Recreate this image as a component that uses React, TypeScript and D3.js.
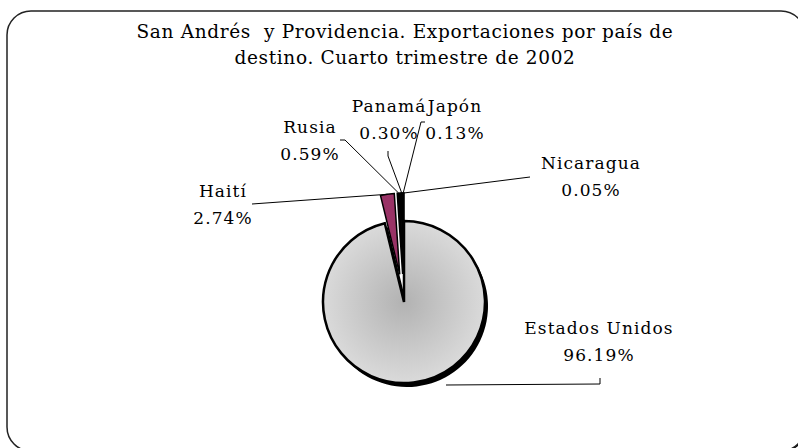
import React from "react";
import * as d3 from "d3";

const categories = ["Estados Unidos", "Haití", "Rusia", "Panamá", "Japón", "Nicaragua"];
const values = [96.19, 2.74, 0.59, 0.3, 0.13, 0.05];
const valueLabels = ["96.19%", "2.74%", "0.59%", "0.30%", "0.13%", "0.05%"];
const titleLines = [
  "San Andrés  y Providencia. Exportaciones por país de",
  "destino. Cuarto trimestre de 2002",
];

// layout (label anchor positions & leader elbow)
const labelPos: [number, number][] = [
  [599, 334],
  [223, 197],
  [310, 133],
  [389, 112],
  [455, 112],
  [591, 169],
];
const elbows: [number, number][][] = [
  [[600, 378], [600, 384]],
  [[252, 204]],
  [[340, 140], [345, 140]],
  [[388, 151], [388, 156]],
  [[425, 122], [421, 122]],
  [[530, 177]],
];
const fills = ["url(#pieGrad)", "#993366", "#000000", "#000000", "#000000", "#000000"];

export default function App() {
  const W = 798, H = 448;
  const cx = 404, cy = 302, r = 81;
  const explode = 28;
  const pie = d3.pie<number>().sort(null).startAngle(0).endAngle(2 * Math.PI);
  const arcs = pie(values);
  const arc = d3.arc<d3.PieArcDatum<number>>().innerRadius(0).outerRadius(r);

  const offsetOf = (i: number) => {
    if (i === 0) return [0, 0];
    const a = (arcs[i].startAngle + arcs[i].endAngle) / 2;
    return [explode * Math.sin(a), -explode * Math.cos(a)];
  };
  const outerPoint = (i: number) => {
    const a = (arcs[i].startAngle + arcs[i].endAngle) / 2;
    const [ox, oy] = offsetOf(i);
    return [cx + ox + r * Math.sin(a), cy + oy - r * Math.cos(a)];
  };

  const font = "'DejaVu Serif', serif";

  return (
    <svg width={W} height={H} style={{ position: "absolute", left: 0, top: 0, background: "#fff" }}>
      <defs>
        <radialGradient id="pieGrad" cx="0.5" cy="0.5" r="0.5">
          <stop offset="0%" stopColor="#b2b2b2" />
          <stop offset="50%" stopColor="#c6c6c6" />
          <stop offset="100%" stopColor="#dadada" />
        </radialGradient>
      </defs>
      <rect x={8} y={12} width={798} height={440} rx={24} ry={24} fill="#000" />
      <rect x={7} y={11} width={798} height={440} rx={24} ry={24} fill="#fff" stroke="#222" strokeWidth={1.5} />
      {titleLines.map((t, i) => (
        <text key={i} x={405} y={38 + i * 26} textAnchor="middle" fontFamily={font} fontSize={18.5} letterSpacing={0.65} fill="#000" style={{ whiteSpace: "pre" }}>
          {t}
        </text>
      ))}
      {/* shadow of main slice */}
      <path d={arc(arcs[0]) || ""} transform={`translate(${cx + 3},${cy + 4})`} fill="#000" />
      {arcs.map((a, i) => {
        const [ox, oy] = offsetOf(i);
        return (
          <path
            key={i}
            d={arc(a) || ""}
            transform={`translate(${cx + ox},${cy + oy})`}
            fill={fills[i]}
            stroke="#000"
            strokeWidth={i === 0 ? 2.5 : 1.5}
            strokeLinejoin="miter"
          />
        );
      })}
      {arcs.map((a, i) => {
        const p = i === 0 ? [cx + 42, cy + 83] : outerPoint(i);
        const pts = [...elbows[i], p];
        return (
          <polyline
            key={"l" + i}
            points={pts.map((q) => q.join(",")).join(" ")}
            fill="none"
            stroke="#000"
            strokeWidth={1}
          />
        );
      })}
      {categories.map((c, i) => (
        <g key={"t" + i}>
          <text x={labelPos[i][0]} y={labelPos[i][1]} textAnchor="middle" fontFamily={font} fontSize={17} letterSpacing={1.1} fill="#000">
            {c}
          </text>
          <text x={labelPos[i][0]} y={labelPos[i][1] + 27} textAnchor="middle" fontFamily={font} fontSize={17} letterSpacing={1.1} fill="#000">
            {valueLabels[i]}
          </text>
        </g>
      ))}
    </svg>
  );
}
